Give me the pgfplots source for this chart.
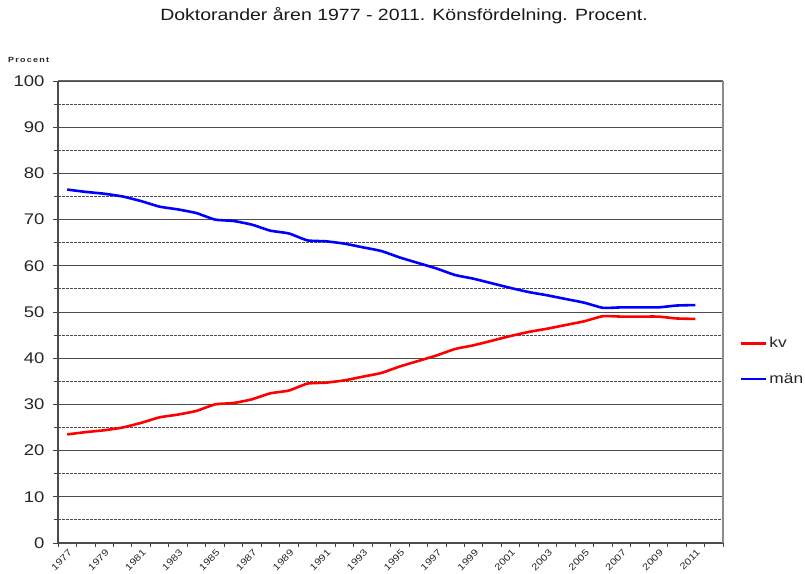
\documentclass[border=0pt]{standalone}
\usepackage{pgfplots}
\pgfplotsset{compat=1.18}
\usepackage{fontspec}
\setmainfont{Liberation Sans}[FakeStretch=1.2]
\begin{document}
\begin{tikzpicture}[x=1bp,y=1bp]
\path[use as bounding box] (0,0) rectangle (805,574);
\begin{axis}[
  at={(58bp,31bp)}, anchor=south west,
  scale only axis, width=665bp, height=462bp,
  xmin=-0.5, xmax=35.5, ymin=0, ymax=100,
  /pgf/number format/assume math mode=true,
  ytick={0,10,...,100},
  minor ytick={5,15,...,95},
  ymajorgrids, yminorgrids,
  major grid style={line width=0.9bp, color=black!70},
  minor grid style={line width=0.8bp, color=black!70, dash pattern=on 2.5bp off 1.5bp},
  xtick={0,2,...,34},
  xticklabels={1977,1979,1981,1983,1985,1987,1989,1991,1993,1995,1997,1999,2001,2003,2005,2007,2009,2011},
  minor xtick={-0.5,0.5,...,35.5},
  major x tick style={draw=none},
  tick align=outside,
  major tick length=5bp, minor tick length=4bp,
  xtick pos=bottom, ytick pos=left,
  tick style={color=black!75, line width=0.8bp},
  yticklabel style={font=\fontsize{15.5}{16}\selectfont, color=black!85, xshift=-5bp},
  xticklabel style={font=\fontsize{9.3}{10}\selectfont, rotate=45, anchor=north east, inner sep=1bp, xshift=1bp, color=black!85},
  axis line style={draw=none},
  clip=false,
  legend style={at={(1.025,0.45)}, anchor=north west, draw=none, fill=none,
    font=\fontsize{14.5}{15}\selectfont, row sep=20bp, color=black!85, inner sep=0pt},
  legend cell align=left,
  legend image code/.code={\draw[#1, line width=2.6bp] (0bp,0bp) -- (25bp,0bp);},
]
\draw[black!70, line width=1.6bp] (axis cs:-0.5,0) -- (axis cs:-0.5,100);
\draw[black!70, line width=1.4bp] (axis cs:-0.5,0) -- (axis cs:35.5,0);
\draw[black!45, line width=1.2bp] (axis cs:35.5,0) -- (axis cs:35.5,100);
\draw[black!60, line width=1bp] (axis cs:-0.5,100) -- (axis cs:35.5,100);
\addplot[red, line width=2.6bp, smooth, tension=0.3] coordinates {
(0,23.5)(1,24.0)(2,24.4)(3,25.0)(4,26.0)(5,27.2)(6,27.8)(7,28.6)(8,30.0)(9,30.3)
(10,31.1)(11,32.4)(12,33.0)(13,34.5)(14,34.7)(15,35.2)(16,36.0)(17,36.8)(18,38.2)(19,39.4)
(20,40.6)(21,42.0)(22,42.8)(23,43.8)(24,44.8)(25,45.7)(26,46.4)(27,47.2)(28,48.0)(29,49.1)
(30,49.0)(31,49.0)(32,49.0)(33,48.6)(34,48.5)};
\addlegendentry{kv}
\addplot[blue, line width=2.6bp, smooth, tension=0.3] coordinates {
(0,76.5)(1,76.0)(2,75.6)(3,75.0)(4,74.0)(5,72.8)(6,72.2)(7,71.4)(8,70.0)(9,69.7)
(10,68.9)(11,67.6)(12,67.0)(13,65.5)(14,65.3)(15,64.8)(16,64.0)(17,63.2)(18,61.8)(19,60.6)
(20,59.4)(21,58.0)(22,57.2)(23,56.2)(24,55.2)(25,54.3)(26,53.6)(27,52.8)(28,52.0)(29,50.9)
(30,51.0)(31,51.0)(32,51.0)(33,51.4)(34,51.5)};
\addlegendentry{män}
\end{axis}
\node[anchor=west, font=\fontsize{7.5}{8}\bfseries, color=black!85, inner sep=0pt] at (8,514) {P\,r\,o\,c\,e\,n\,t};
\node[font=\fontsize{16.3}{17}\selectfont, color=black!90] at (404,558) {Doktorander åren 1977 - 2011. Könsfördelning. Procent.};
\end{tikzpicture}
\end{document}
